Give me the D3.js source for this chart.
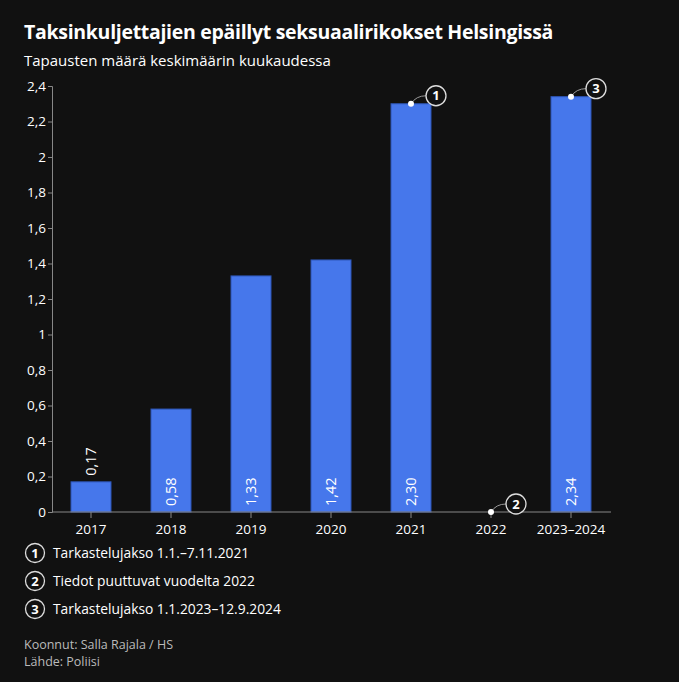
<!DOCTYPE html>
<html>
<head>
<meta charset="utf-8">
<script src="https://cdn.jsdelivr.net/npm/d3@7"></script>
<style>
  body { margin: 0; background: #111111; }
  svg { display: block; font-family: "Open Sans", sans-serif; }
</style>
</head>
<body>
<svg id="chart" width="679" height="682"></svg>
<script>
const years = ['2017', '2018', '2019', '2020', '2021', '2022', '2023–2024']
const values = [0.17, 0.58, 1.33, 1.42, 2.30, null, 2.34]
const yTicks = [0, 0.2, 0.4, 0.6, 0.8, 1, 1.2, 1.4, 1.6, 1.8, 2, 2.2, 2.4]
const notes = [
  { n: '1', year: '2021', text: 'Tarkastelujakso 1.1.–7.11.2021' },
  { n: '2', year: '2022', text: 'Tiedot puuttuvat vuodelta 2022' },
  { n: '3', year: '2023–2024', text: 'Tarkastelujakso 1.1.2023–12.9.2024' }
]

const svg = d3.select('#chart')
const fmt = v => d3.format('.2f')(v).replace('.', ',')
const tickFmt = v => String(v).replace('.', ',')

svg.append('text')
  .attr('x', 24).attr('y', 39)
  .attr('fill', '#fff').attr('font-size', 19.5).attr('font-weight', 700)
  .attr('letter-spacing', '-0.3')
  .text('Taksinkuljettajien epäillyt seksuaalirikokset Helsingissä')

svg.append('text')
  .attr('x', 24).attr('y', 66)
  .attr('fill', '#fff').attr('font-size', 15)
  .text('Tapausten määrä keskimäärin kuukaudessa')

const x = d3.scaleBand()
  .domain(years)
  .range([51, 611])
  .paddingInner(0.5)
  .paddingOuter(0.25)

const y = d3.scaleLinear()
  .domain([0, 2.4])
  .range([512, 86])

// y axis
const yAxis = svg.append('g')
  .attr('transform', 'translate(52,0)')
  .call(d3.axisLeft(y).tickValues(yTicks).tickFormat(tickFmt).tickSize(4))
yAxis.select('.domain').attr('stroke', '#888')
yAxis.selectAll('line').attr('stroke', '#888')
yAxis.selectAll('text')
  .attr('fill', '#fff').attr('font-size', 13.5).attr('x', -6)
  .style('font-family', '"Open Sans", sans-serif')

// bars
svg.append('g').selectAll('rect')
  .data(years.map((d, i) => ({ year: d, v: values[i] })).filter(d => d.v != null))
  .enter()
  .append('rect')
  .attr('x', d => x(d.year))
  .attr('width', x.bandwidth())
  .attr('y', d => y(d.v))
  .attr('height', d => y(0) - y(d.v))
  .attr('fill', '#4677EB')
  .attr('stroke', '#2d55b5')
  .attr('stroke-width', 1)

// x axis
const xAxis = svg.append('g')
  .attr('transform', 'translate(0,512)')
  .call(d3.axisBottom(x).tickSize(6).tickSizeOuter(0))
xAxis.select('.domain').attr('stroke', '#888').attr('d', 'M52,0H611')
xAxis.selectAll('line').attr('stroke', '#888')
xAxis.selectAll('text')
  .attr('fill', '#fff').attr('font-size', 13.5).attr('y', 12)
  .style('font-family', '"Open Sans", sans-serif')

// value labels
svg.append('g').selectAll('text')
  .data(years.map((d, i) => ({ year: d, v: values[i] })).filter(d => d.v != null))
  .enter()
  .append('text')
  .attr('transform', d => {
    const cx = x(d.year) + x.bandwidth() / 2
    const inside = y(0) - y(d.v) > 40
    const yy = inside ? y(0) - 6 : y(d.v) - 6
    return `translate(${cx + 5},${yy}) rotate(-90)`
  })
  .attr('fill', '#fff').attr('font-size', 14.5)
  .text(d => fmt(d.v))

// annotation markers
notes.forEach(n => {
  const i = years.indexOf(n.year)
  const v = values[i] == null ? 0 : values[i]
  const px = x(n.year) + x.bandwidth() / 2
  const py = y(v)
  const cx = px + 25, cy = py - 8
  svg.append('path')
    .attr('d', `M${px},${py} Q${px + 5},${cy} ${cx - 10},${cy}`)
    .attr('fill', 'none').attr('stroke', '#999').attr('stroke-width', 1)
  svg.append('circle')
    .attr('cx', px).attr('cy', py).attr('r', 3).attr('fill', '#fff')
  svg.append('circle')
    .attr('cx', cx).attr('cy', cy).attr('r', 10)
    .attr('fill', '#111').attr('stroke', '#ddd').attr('stroke-width', 1.3)
  svg.append('text')
    .attr('x', cx).attr('y', cy + 4.5)
    .attr('text-anchor', 'middle')
    .attr('fill', '#fff').attr('font-size', 13).attr('font-weight', 700)
    .text(n.n)
})

// legend
const leg = svg.append('g').selectAll('g')
  .data(notes)
  .enter()
  .append('g')
  .attr('transform', (d, i) => `translate(35,${553 + i * 28})`)
leg.append('circle')
  .attr('r', 9.5).attr('fill', '#111').attr('stroke', '#ddd').attr('stroke-width', 1.3)
leg.append('text')
  .attr('y', 4.5).attr('text-anchor', 'middle')
  .attr('fill', '#fff').attr('font-size', 13).attr('font-weight', 700)
  .text(d => d.n)
leg.append('text')
  .attr('x', 18).attr('y', 5)
  .attr('fill', '#fff').attr('font-size', 13.8)
  .text(d => d.text)

// footer
svg.append('text')
  .attr('x', 24).attr('y', 649)
  .attr('fill', '#bbb').attr('font-size', 12.5)
  .text('Koonnut: Salla Rajala / HS')
svg.append('text')
  .attr('x', 24).attr('y', 666)
  .attr('fill', '#bbb').attr('font-size', 12.5)
  .text('Lähde: Poliisi')
</script>
</body>
</html>
